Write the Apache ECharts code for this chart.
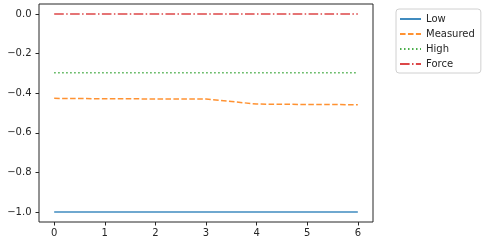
<!DOCTYPE html>
<html><head><meta charset="utf-8">
<script src="https://cdn.jsdelivr.net/npm/echarts@6/dist/echarts.min.js"></script>
<style>html,body{margin:0;padding:0;background:#fff}#c{width:486px;height:246px}</style>
</head><body><div id="c"></div>
<script>
const xValues = [0, 1, 2, 3, 4, 5, 6];
const lowValues = [-1, -1, -1, -1, -1, -1, -1];
const measuredValues = [-0.426, -0.428, -0.429, -0.429, -0.455, -0.457, -0.458];
const highValues = [-0.297, -0.297, -0.297, -0.297, -0.297, -0.297, -0.297];
const forceValues = [0, 0, 0, 0, 0, 0, 0];
const xTicks = [0, 1, 2, 3, 4, 5, 6];
const yTicks = [-1.0, -0.8, -0.6, -0.4, -0.2, 0.0];
const seriesNames = ['Low', 'Measured', 'High', 'Force'];

const font = 'DejaVu Sans';
const toPairs = v => xValues.map((x, i) => [x, v[i]]);
const mk = (name, vals, color, type) => ({
  name, type: 'line', data: toPairs(vals), symbol: 'none', showSymbol: false,
  lineStyle: { color, width: 1.5, type, opacity: 0.85 },
  itemStyle: { color, opacity: 0.85 },
  emphasis: { disabled: true }, animation: false
});
const chart = echarts.init(document.getElementById('c'), null, { renderer: 'canvas' });
chart.setOption({
  animation: false,
  grid: { left: 39, right: 113, top: 4, bottom: 24, show: true, borderColor: '#262626', borderWidth: 1, containLabel: false },
  xAxis: {
    type: 'value', min: -0.3, max: 6.3,
    axisLine: { show: false, onZero: false },
    splitLine: { show: false },
    axisTick: { show: true, customValues: xTicks, length: 3.5, lineStyle: { color: '#262626' } },
    axisLabel: { customValues: xTicks, color: '#262626', fontFamily: font, fontSize: 10, margin: 6 }
  },
  yAxis: {
    type: 'value', min: -1.05, max: 0.05,
    axisLine: { show: false, onZero: false },
    splitLine: { show: false },
    axisTick: { show: true, customValues: yTicks, length: 3.5, lineStyle: { color: '#262626' } },
    axisLabel: { customValues: yTicks, color: '#262626', fontFamily: font, fontSize: 10, margin: 7.5,
      formatter: v => (v < 0 ? '\u2212' : '') + Math.abs(v).toFixed(1) }
  },
  legend: {
    data: seriesNames, orient: 'vertical', left: 396, top: 9,
    itemWidth: 21, itemHeight: 8, itemGap: 5,
    itemStyle: { opacity: 0 },
    textStyle: { fontFamily: font, fontSize: 10, color: '#262626' },
    borderColor: '#d0d0d0', borderWidth: 1, borderRadius: 3, padding: [5, 6, 4, 3],
    selectedMode: false
  },
  series: [
    mk('Low', lowValues, '#1f77b4', 'solid'),
    mk('Measured', measuredValues, '#ff7f0e', [5.55, 2.4]),
    mk('High', highValues, '#2ca02c', [1.5, 2.5]),
    mk('Force', forceValues, '#d62728', [9.6, 2.4, 1.5, 2.4])
  ]
});
</script></body></html>
